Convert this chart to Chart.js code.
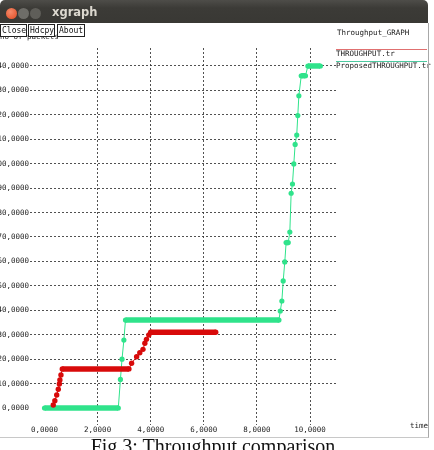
<!DOCTYPE html>
<html>
<head>
<meta charset="utf-8">
<script src="https://cdn.jsdelivr.net/npm/chart.js@4.4.1/dist/chart.umd.min.js"></script>
<style>
  html, body { margin: 0; padding: 0; background: #fff; }
  #wrap { position: relative; width: 434px; height: 450px; overflow: hidden; background: #fff; }
  #chart { position: absolute; left: 0; top: 0; }
  .mono { font-family: "DejaVu Sans Mono", monospace; font-size: 7.5px; color: #222; position: absolute; white-space: nowrap; }
  #titlebar { position: absolute; left: 0; top: 0; width: 428px; height: 23px; border-radius: 5px 5px 0 0;
    background: linear-gradient(#4e4d49, #3c3b37 35%, #393834); }
  .dot { position: absolute; top: 8px; width: 11px; height: 11px; border-radius: 50%; }
  #title { position: absolute; left: 52px; top: 5px; font: bold 11.5px "DejaVu Sans", sans-serif; color: #dcd8cf; }
  #frame { position: absolute; left: 0; top: 23px; width: 428px; height: 414px; border-right: 1px solid #a8a8a8; border-bottom: 1px solid #c8c8c8; pointer-events: none; }
  .btn { position: absolute; top: 24px; height: 11px; line-height: 11px; padding: 0 1px; border: 1px solid #222; background: #fff;
    font-family: "DejaVu Sans Mono", monospace; font-size: 8px; color: #111; }
  #caption { position: absolute; left: 0; width: 426px; top: 436px; text-align: center; font: 20px/1 "Liberation Serif", serif; color: #111; }
</style>
</head>
<body>
<div id="wrap">
  <canvas id="chart" width="434" height="450"></canvas>
  <div class="mono" style="left:0; top:32px;">no of packets</div>
  <div id="frame"></div>
  <div id="titlebar">
    <div class="dot" style="left:6px; background: radial-gradient(circle at 40% 35%, #f58a6a, #df4a22);"></div>
    <div class="dot" style="left:18px; background: #6e6d68;"></div>
    <div class="dot" style="left:30px; background: #5f5e59;"></div>
    <div id="title">xgraph</div>
  </div>
  <div class="btn" style="left:0; width:23px;">Close</div>
  <div class="btn" style="left:28px; width:23px;">Hdcpy</div>
  <div class="btn" style="left:57px; width:24px;">About</div>
  <div class="mono" style="left:410px; top:421px;">time</div>
  <div id="caption">Fig 3: Throughput comparison</div>
</div>
<script>
// axis ticks
const xTicks = [0, 2, 4, 6, 8, 10];
const yTicks = [0, 10, 20, 30, 40, 50, 60, 70, 80, 90, 100, 110, 120, 130, 140];

// THROUGHPUT.tr (red)
const redTime    = [0.33, 0.39, 0.46, 0.52, 0.56, 0.58, 0.62, 0.67, 3.18, 3.28, 3.47, 3.59, 3.71, 3.78, 3.84, 3.93, 4.0, 6.45];
const redPackets = [1.2, 3.0, 5.3, 7.7, 9.8, 11.5, 13.5, 16, 16, 18.3, 21, 22.6, 24, 26.5, 28.1, 29.9, 31, 31];

// ProposedTHROUGHPUT.tr (green)
const greenTime    = [0, 2.78, 2.86, 2.92, 2.99, 3.05, 8.83, 8.88, 8.94, 8.99, 9.05, 9.1, 9.18, 9.24, 9.29, 9.34, 9.39, 9.44, 9.5, 9.54, 9.58, 9.67, 9.83, 9.92, 10.39];
const greenPackets = [0, 0, 11.7, 20, 27.8, 36, 36, 39.7, 43.8, 52, 59.8, 67.7, 67.7, 72, 87.9, 91.7, 99.9, 107.9, 111.7, 119.7, 127.8, 136, 136, 140, 140];

const graphTitle = 'Throughput_GRAPH';

const RED = '#d80a0a';
const GREEN = '#2fe38b';
const FONT = { family: 'DejaVu Sans Mono', size: 7.5 };
const GRID = 'rgba(50,50,50,0.85)';

function toPoints(xs, ys) {
    return xs.map((x, i) => ({ x: x, y: ys[i] }));
}

function fmt(v) {
    return v.toFixed(4).replace('.', ',');
}

// flat runs are drawn thick like xgraph's dense markers, rises are thin
const segStyle = {
    borderWidth: ctx => ctx.p0.parsed.y === ctx.p1.parsed.y ? 5.5 : 1
};

const xgraphLegend = {
    id: 'xgraphLegend',
    afterDraw(chart) {
        const c = chart.ctx;
        c.save();
        c.font = '7.5px "DejaVu Sans Mono"';
        c.fillStyle = '#222';
        c.textBaseline = 'middle';
        c.textAlign = 'left';
        c.fillText(graphTitle, 337, 33);
        chart.data.datasets.forEach((ds, i) => {
            const ly = 49.5 + 12 * i;
            c.strokeStyle = ds.legendColor;
            c.lineWidth = 1;
            c.beginPath();
            c.moveTo(336, ly);
            c.lineTo(427, ly);
            c.stroke();
            c.fillStyle = '#222';
            c.fillText(ds.label, 336, 54.5 + 11.5 * i);
        });
        c.restore();
    }
};

new Chart(document.getElementById('chart').getContext('2d'), {
    type: 'scatter',
    data: {
        datasets: [
            {
                label: 'THROUGHPUT.tr',
                data: toPoints(redTime, redPackets),
                showLine: true,
                borderColor: RED,
                backgroundColor: RED,
                legendColor: '#e07070',
                pointRadius: 2.7,
                pointBorderWidth: 0,
                segment: segStyle
            },
            {
                label: 'ProposedTHROUGHPUT.tr',
                data: toPoints(greenTime, greenPackets),
                showLine: true,
                borderColor: GREEN,
                backgroundColor: GREEN,
                legendColor: '#4cc9a0',
                pointRadius: 2.6,
                pointBorderWidth: 0,
                segment: segStyle
            }
        ]
    },
    options: {
        responsive: false,
        animation: false,
        layout: { padding: { top: 48, right: 98, bottom: 0, left: 0 } },
        plugins: {
            legend: { display: false },
            tooltip: { enabled: false }
        },
        scales: {
            x: {
                type: 'linear',
                min: -0.546,
                max: 10.979,
                afterBuildTicks: scale => { scale.ticks = xTicks.map(v => ({ value: v })); },
                afterFit: scale => { scale.height = 25; },
                border: { display: false, dash: [2, 2] },
                grid: {
                    drawTicks: false,
                    color: ctx => ctx.tick && ctx.tick.value === 0 ? 'rgba(0,0,0,0)' : GRID,
                    lineWidth: 1
                },
                ticks: {
                    padding: 1,
                    maxRotation: 0,
                    autoSkip: false,
                    color: '#222',
                    font: FONT,
                    callback: v => fmt(v)
                }
            },
            y: {
                type: 'linear',
                min: -6.96,
                max: 147.36,
                afterBuildTicks: scale => { scale.ticks = yTicks.map(v => ({ value: v })); },
                afterFit: scale => { scale.width = 30; },
                border: { display: false, dash: [2, 2] },
                grid: {
                    drawTicks: false,
                    color: ctx => ctx.tick && ctx.tick.value === 0 ? 'rgba(0,0,0,0)' : GRID,
                    lineWidth: 1
                },
                ticks: {
                    padding: 1,
                    autoSkip: false,
                    color: '#222',
                    font: FONT,
                    callback: v => fmt(v)
                }
            }
        }
    },
    plugins: [xgraphLegend]
});
</script>
</body>
</html>
